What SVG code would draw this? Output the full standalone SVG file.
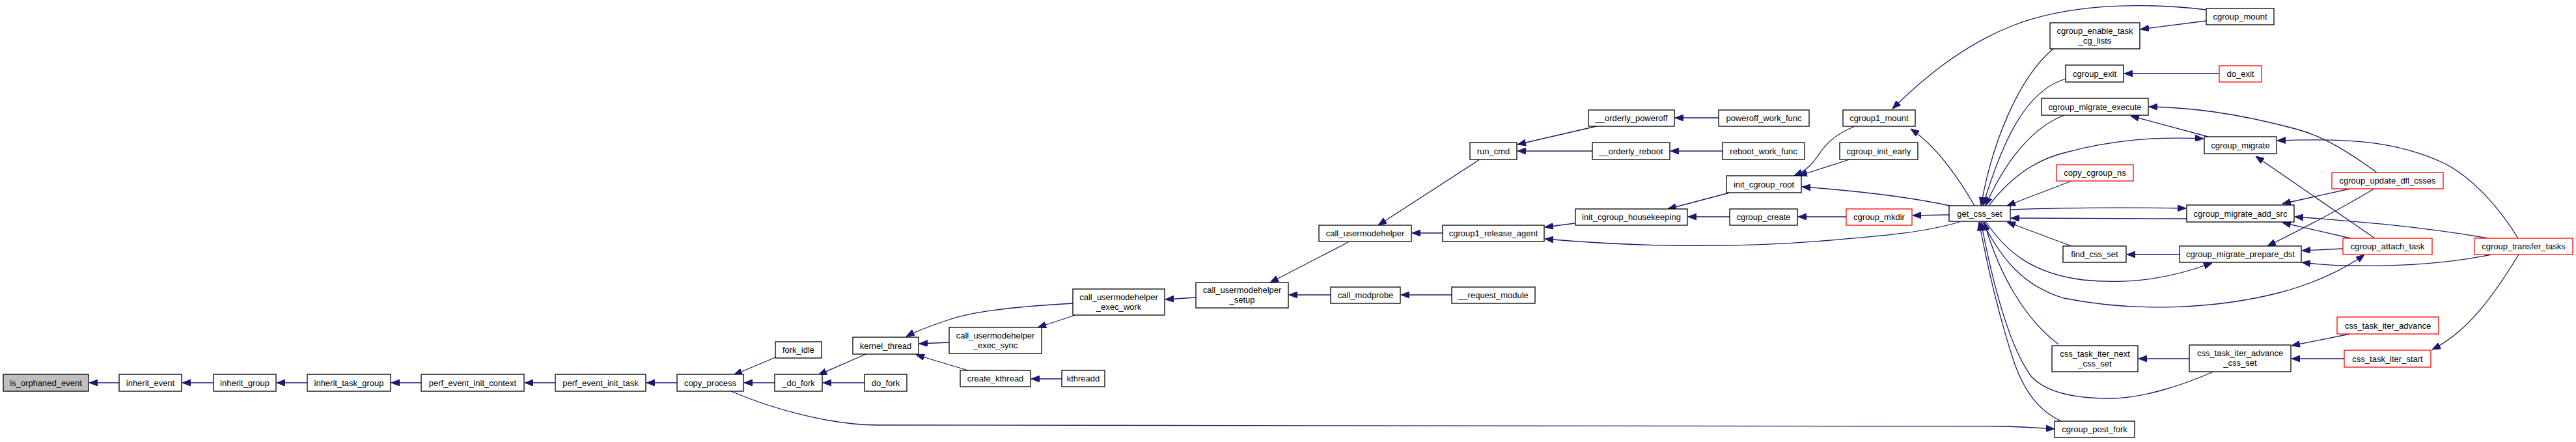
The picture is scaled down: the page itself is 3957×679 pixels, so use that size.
<svg xmlns="http://www.w3.org/2000/svg" width="3957" height="679" viewBox="0 0 3957 679">
<style>
.n rect{fill:#fff;stroke:#000;stroke-width:1.3}
.n.r rect{stroke:#f00}
.n.g rect{fill:#bfbfbf}
.n text{font-family:"Liberation Sans",Arial,sans-serif;font-size:13px;fill:#000;text-anchor:middle}
#edges path{fill:none;stroke:#191970;stroke-width:1.3;marker-end:url(#a)}
</style>
<defs>
<marker id="a" viewBox="0 0 13 10" markerWidth="13" markerHeight="10" refX="13" refY="5" orient="auto" markerUnits="userSpaceOnUse">
<path d="M0,0L13,5L0,10z" fill="#191970" stroke="#191970" stroke-width="1"/>
</marker>
</defs>
<rect width="3957" height="679" fill="#fff"/>
<g id="edges">
<path d="M183,588L137,588"/>
<path d="M328,588L280,588"/>
<path d="M472,588L425,588"/>
<path d="M647,588L601,588"/>
<path d="M853,588L806,588"/>
<path d="M1040,588L993,588"/>
<path d="M1191,549L1127,576"/>
<path d="M1190,588L1143,588"/>
<path d="M1123,601C1190,630 1280,653 1347,653L3080,655C3120,656 3140,658 3156,659"/>
<path d="M1330,544L1257,576"/>
<path d="M1328,588L1264,588"/>
<path d="M1458,526L1412,528"/>
<path d="M1487,569L1407,545"/>
<path d="M1648,466C1580,470 1500,476 1455,492C1425,502 1405,510 1392,517"/>
<path d="M1652,484L1594,503"/>
<path d="M1631,582L1584,582"/>
<path d="M1837,457L1790,460"/>
<path d="M2071,372L1951,434"/>
<path d="M2044,453L1980,453"/>
<path d="M2230,453L2152,453"/>
<path d="M2273,245L2117,346"/>
<path d="M2216,358L2169,358"/>
<path d="M2452,194L2331,222"/>
<path d="M2446,232L2331,232"/>
<path d="M2640,181L2573,181"/>
<path d="M2646,232L2566,232"/>
<path d="M2419,343L2373,349"/>
<path d="M3010,341C2960,356 2900,362 2800,370C2650,382 2500,378 2373,367"/>
<path d="M2657,296L2562,321"/>
<path d="M2657,333L2593,333"/>
<path d="M2836,333L2762,333"/>
<path d="M2994,330L2938,331"/>
<path d="M2849,194C2815,208 2802,225 2792,240C2782,255 2772,263 2756,270"/>
<path d="M2841,245L2763,270"/>
<path d="M2995,316C2930,302 2850,293 2768,287"/>
<path d="M3033,316C3010,276 2975,225 2935,198"/>
<path d="M3389,15C3280,2 3170,8 3090,40C3010,72 2950,125 2907,167"/>
<path d="M3154,75C3100,120 3060,220 3043,316"/>
<path d="M3173,121C3110,140 3075,220 3046,316"/>
<path d="M3171,177C3110,200 3070,270 3050,316"/>
<path d="M3055,316C3090,270 3130,245 3170,235C3250,213 3320,210 3385,213"/>
<path d="M3182,278L3083,316"/>
<path d="M3088,322C3200,318 3300,319 3358,320"/>
<path d="M3359,336C3250,336 3150,336 3089,335"/>
<path d="M3182,378L3083,341"/>
<path d="M3050,340C3080,385 3120,420 3200,430C3280,438 3340,425 3398,404"/>
<path d="M3045,340C3075,400 3110,440 3170,458C3280,480 3400,475 3500,450C3550,437 3600,415 3632,391"/>
<path d="M3162,529C3110,490 3070,420 3048,341"/>
<path d="M3400,571C3350,593 3290,612 3240,612C3180,612 3140,600 3120,578C3085,530 3060,430 3043,341"/>
<path d="M3166,647C3130,630 3110,600 3095,560C3075,500 3055,420 3040,341"/>
<path d="M3363,551L3285,551"/>
<path d="M3610,513L3520,531"/>
<path d="M3601,551L3520,551"/>
<path d="M3869,391C3830,455 3790,510 3736,537"/>
<path d="M3389,32L3288,45"/>
<path d="M3409,113L3263,113"/>
<path d="M3392,210L3273,178"/>
<path d="M3651,265C3610,235 3570,210 3530,199C3430,172 3360,165 3301,164"/>
<path d="M3868,366C3840,320 3800,275 3757,252C3680,215 3600,212 3498,216"/>
<path d="M3648,366L3465,240"/>
<path d="M3610,290L3506,313"/>
<path d="M3822,366C3720,348 3620,340 3525,333"/>
<path d="M3611,366L3506,342"/>
<path d="M3647,290C3600,318 3540,350 3483,378"/>
<path d="M3599,382L3536,385"/>
<path d="M3827,391C3760,405 3680,410 3600,408C3570,407 3550,405 3536,403"/>
<path d="M3348,391L3267,391"/>
</g>
<g id="n1" class="n g"><rect x="5" y="575" width="131" height="26"/><text x="70.5" y="592.5">is_orphaned_event</text></g>
<g id="n2" class="n"><rect x="183" y="575" width="96" height="26"/><text x="231" y="592.5">inherit_event</text></g>
<g id="n3" class="n"><rect x="328" y="575" width="96" height="26"/><text x="376" y="592.5">inherit_group</text></g>
<g id="n4" class="n"><rect x="472" y="575" width="128" height="26"/><text x="536" y="592.5">inherit_task_group</text></g>
<g id="n5" class="n"><rect x="647" y="575" width="158" height="26"/><text x="726" y="592.5">perf_event_init_context</text></g>
<g id="n6" class="n"><rect x="853" y="575" width="139" height="26"/><text x="922.5" y="592.5">perf_event_init_task</text></g>
<g id="n7" class="n"><rect x="1040" y="575" width="102" height="26"/><text x="1091" y="592.5">copy_process</text></g>
<g id="n8" class="n"><rect x="1191" y="525" width="71" height="25"/><text x="1226.5" y="542">fork_idle</text></g>
<g id="n9" class="n"><rect x="1190" y="575" width="73" height="26"/><text x="1226.5" y="592.5">_do_fork</text></g>
<g id="n10" class="n"><rect x="1310" y="518" width="101" height="26"/><text x="1360.5" y="535.5">kernel_thread</text></g>
<g id="n11" class="n"><rect x="1328" y="575" width="65" height="26"/><text x="1360.5" y="592.5">do_fork</text></g>
<g id="n12" class="n"><rect x="1458" y="503" width="142" height="40"/><text x="1529" y="519.5">call_usermodehelper</text><text x="1529" y="534.5">_exec_sync</text></g>
<g id="n13" class="n"><rect x="1475" y="569" width="108" height="25"/><text x="1529" y="586">create_kthread</text></g>
<g id="n14" class="n"><rect x="1631" y="569" width="66" height="25"/><text x="1664" y="586">kthreadd</text></g>
<g id="n15" class="n"><rect x="1648" y="444" width="141" height="40"/><text x="1718.5" y="460.5">call_usermodehelper</text><text x="1718.5" y="475.5">_exec_work</text></g>
<g id="n16" class="n"><rect x="1837" y="434" width="142" height="39"/><text x="1908" y="450">call_usermodehelper</text><text x="1908" y="465">_setup</text></g>
<g id="n17" class="n"><rect x="2044" y="441" width="107" height="25"/><text x="2097.5" y="458">call_modprobe</text></g>
<g id="n18" class="n"><rect x="2230" y="441" width="128" height="25"/><text x="2294" y="458">__request_module</text></g>
<g id="n19" class="n"><rect x="2026" y="346" width="142" height="25"/><text x="2097" y="363">call_usermodehelper</text></g>
<g id="n20" class="n"><rect x="2258" y="219" width="72" height="26"/><text x="2294" y="236.5">run_cmd</text></g>
<g id="n21" class="n"><rect x="2216" y="346" width="156" height="25"/><text x="2294" y="363">cgroup1_release_agent</text></g>
<g id="n22" class="n"><rect x="2440" y="169" width="132" height="25"/><text x="2506" y="186">__orderly_poweroff</text></g>
<g id="n23" class="n"><rect x="2446" y="219" width="119" height="26"/><text x="2505.5" y="236.5">__orderly_reboot</text></g>
<g id="n24" class="n"><rect x="2420" y="321" width="172" height="25"/><text x="2506" y="338">init_cgroup_housekeeping</text></g>
<g id="n25" class="n"><rect x="2640" y="169" width="139" height="25"/><text x="2709.5" y="186">poweroff_work_func</text></g>
<g id="n26" class="n"><rect x="2646" y="219" width="126" height="26"/><text x="2709" y="236.5">reboot_work_func</text></g>
<g id="n27" class="n"><rect x="2652" y="270" width="115" height="26"/><text x="2709.5" y="287.5">init_cgroup_root</text></g>
<g id="n28" class="n"><rect x="2657" y="321" width="104" height="25"/><text x="2709" y="338">cgroup_create</text></g>
<g id="n29" class="n"><rect x="2831" y="169" width="111" height="25"/><text x="2886.5" y="186">cgroup1_mount</text></g>
<g id="n30" class="n"><rect x="2826" y="219" width="120" height="26"/><text x="2886" y="236.5">cgroup_init_early</text></g>
<g id="n31" class="n r"><rect x="2836" y="321" width="101" height="25"/><text x="2886.5" y="338">cgroup_mkdir</text></g>
<g id="n32" class="n"><rect x="2994" y="316" width="94" height="24"/><text x="3041" y="332.5">get_css_set</text></g>
<g id="n33" class="n"><rect x="3149" y="35" width="138" height="40"/><text x="3218" y="51.5">cgroup_enable_task</text><text x="3218" y="66.5">_cg_lists</text></g>
<g id="n34" class="n"><rect x="3173" y="100" width="89" height="26"/><text x="3217.5" y="117.5">cgroup_exit</text></g>
<g id="n35" class="n"><rect x="3136" y="151" width="164" height="26"/><text x="3218" y="168.5">cgroup_migrate_execute</text></g>
<g id="n36" class="n r"><rect x="3159" y="253" width="118" height="25"/><text x="3218" y="270">copy_cgroup_ns</text></g>
<g id="n37" class="n"><rect x="3169" y="378" width="97" height="25"/><text x="3217.5" y="395">find_css_set</text></g>
<g id="n38" class="n"><rect x="3152" y="531" width="132" height="40"/><text x="3218" y="547.5">css_task_iter_next</text><text x="3218" y="562.5">_css_set</text></g>
<g id="n39" class="n"><rect x="3156" y="647" width="123" height="25"/><text x="3217.5" y="664">cgroup_post_fork</text></g>
<g id="n40" class="n"><rect x="3363" y="530" width="156" height="41"/><text x="3441" y="547">css_task_iter_advance</text><text x="3441" y="562">_css_set</text></g>
<g id="n41" class="n r"><rect x="3590" y="487" width="156" height="26"/><text x="3668" y="504.5">css_task_iter_advance</text></g>
<g id="n42" class="n r"><rect x="3601" y="538" width="133" height="26"/><text x="3667.5" y="555.5">css_task_iter_start</text></g>
<g id="n43" class="n"><rect x="3389" y="13" width="104" height="25"/><text x="3441" y="30">cgroup_mount</text></g>
<g id="n44" class="n r"><rect x="3409" y="101" width="65" height="25"/><text x="3441.5" y="118">do_exit</text></g>
<g id="n45" class="n"><rect x="3386" y="210" width="111" height="26"/><text x="3441.5" y="227.5">cgroup_migrate</text></g>
<g id="n46" class="n r"><rect x="3582" y="265" width="171" height="25"/><text x="3667.5" y="282">cgroup_update_dfl_csses</text></g>
<g id="n47" class="n"><rect x="3359" y="315" width="165" height="26"/><text x="3441.5" y="332.5">cgroup_migrate_add_src</text></g>
<g id="n48" class="n"><rect x="3348" y="378" width="187" height="25"/><text x="3441.5" y="395">cgroup_migrate_prepare_dst</text></g>
<g id="n49" class="n r"><rect x="3599" y="366" width="137" height="25"/><text x="3667.5" y="383">cgroup_attach_task</text></g>
<g id="n50" class="n r"><rect x="3801" y="366" width="151" height="25"/><text x="3876.5" y="383">cgroup_transfer_tasks</text></g>
</svg>
